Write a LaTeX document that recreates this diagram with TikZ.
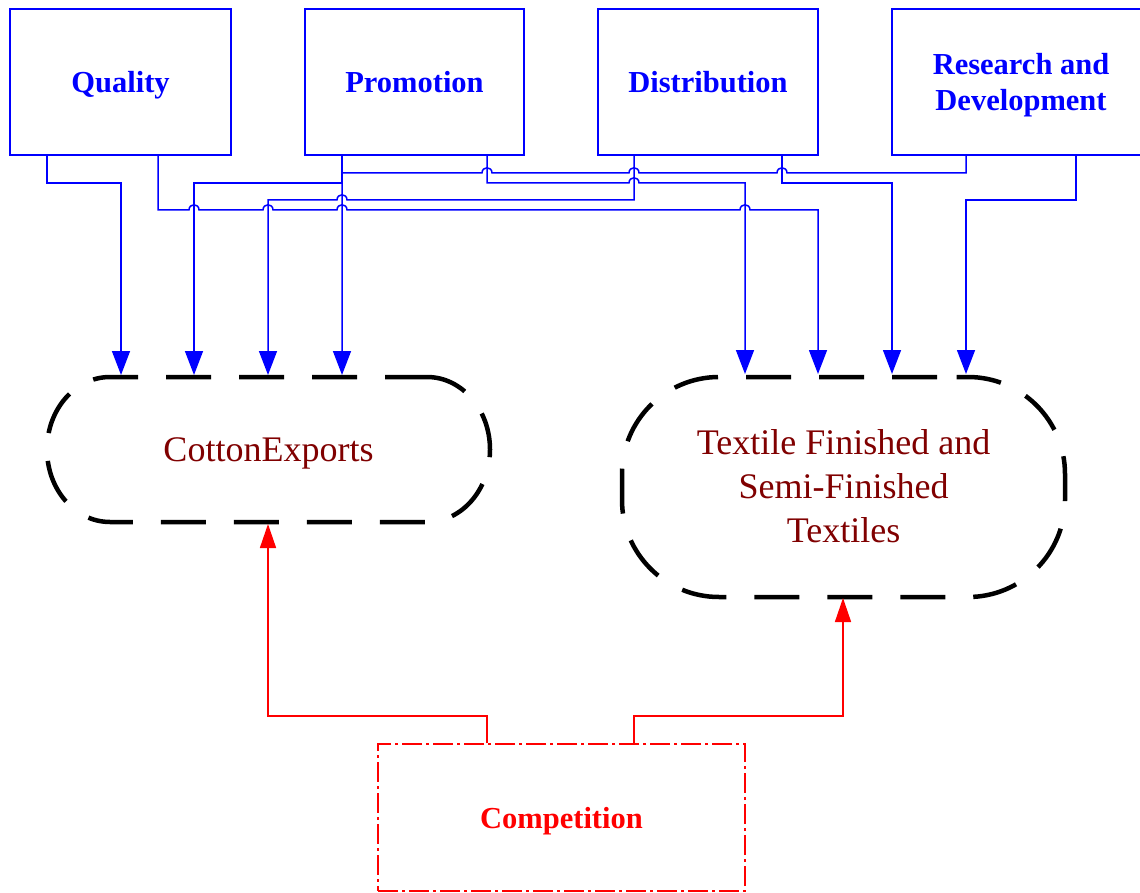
\documentclass[tikz,border=0pt]{standalone}
\usepackage{fontspec}
\setmainfont{Liberation Serif}
\usetikzlibrary{arrows.meta}
\definecolor{darkred}{RGB}{128,0,0}

\begin{document}
\begin{tikzpicture}[x=1pt,y=-1pt,
  topbox/.style={draw=blue, line width=1.5pt, minimum width=#1, minimum height=146pt,
    inner sep=0pt, align=center, text=blue, text depth=0pt,
    font=\fontsize{30.5}{36}\selectfont\bfseries},
  target/.style={inner sep=0pt, outer sep=2pt, align=center, text=darkred,
    font=\fontsize{36}{44}\selectfont},
  ring/.style={draw=black, line width=4.5pt, dash pattern=on 45pt off 28pt},
  compbox/.style={draw=red, line width=1.5pt, dash pattern=on 20pt off 4pt on 3pt off 4pt,
    minimum width=367pt, minimum height=147pt, inner sep=0pt, text=red, text depth=0pt,
    font=\fontsize{30.5}{36}\selectfont\bfseries},
  conn/.style={draw=blue, line width=1.5pt, -{Triangle[length=24pt,width=18pt]}},
  redconn/.style={draw=red, line width=1.5pt, -{Triangle[length=24pt,width=16pt]}}
]
\fill[white] (0,0) rectangle (1140,893);
\useasboundingbox (0,0) rectangle (1140,893);

% source boxes
\node[topbox=221pt] (q) at (120.5,82) {Quality};
\node[topbox=219pt] (p) at (414.5,82) {Promotion};
\node[topbox=220pt] (d) at (708,82) {Distribution};
\node[topbox=258pt] (r) at (1021,82) {Research and\\Development};

% targets
\node[target, text depth=0pt, minimum width=443pt, minimum height=145pt] (ce) at (268.5,449.5) {CottonExports};
\node[target, minimum width=443pt, minimum height=220pt] (tf) at (843.5,486)
  {Textile Finished and\\Semi-Finished\\Textiles};

% dashed outlines of the targets
\draw[ring, dash phase=3pt] (427,377) -- (110,377)
  arc[start angle=90, end angle=270, x radius=63pt, y radius=72.5pt]
  -- (427,522)
  arc[start angle=-90, end angle=90, x radius=63pt, y radius=72.5pt] -- cycle;
\draw[ring] (937,377) -- (719,377)
  arc[start angle=90, end angle=180, radius=97pt] -- (622,500)
  arc[start angle=180, end angle=270, radius=97pt] -- (968,597)
  arc[start angle=270, end angle=360, radius=97pt] -- (1065,474)
  arc[start angle=0, end angle=90, radius=97pt] -- cycle;

% competition
\node[compbox] (c) at (561.5,817.5) {Competition};

% Quality
\draw[conn] (q.south -| 47,0) -- (47,183) -- (121,183) -- (121,0 |- ce.north);
\draw[conn] (q.south -| 158,0) -- (158,210)
  -- (189,210) .. controls (189,203) and (199,203) .. (199,210)
  -- (263,210) .. controls (263,203) and (273,203) .. (273,210)
  -- (337,210) .. controls (337,203) and (347,203) .. (347,210)
  -- (740,210) .. controls (740,203) and (750,203) .. (750,210)
  -- (818,210) -- (818,0 |- tf.north);

% Promotion
\draw[conn] (p.south -| 342,0) -- (342,183) -- (194,183) -- (194,0 |- ce.north);
\draw[conn] (p.south -| 487,0) -- (487,183)
  -- (629,183) .. controls (629,176) and (639,176) .. (639,183)
  -- (745,183) -- (745,0 |- tf.north);

% Distribution
\draw[conn] (d.south -| 634,0) -- (634,200)
  -- (347,200) .. controls (347,193) and (337,193) .. (337,200)
  -- (268,200) -- (268,0 |- ce.north);
\draw[conn] (d.south -| 782,0) -- (782,183) -- (892,183) -- (892,0 |- tf.north);

% Research and Development
\draw[conn] (r.south -| 966,0) -- (966,173)
  -- (787,173) .. controls (787,166) and (777,166) .. (777,173)
  -- (639,173) .. controls (639,166) and (629,166) .. (629,173)
  -- (492,173) .. controls (492,166) and (482,166) .. (482,173)
  -- (342,173) -- (342,0 |- ce.north);
\draw[conn] (r.south -| 1076,0) -- (1076,200) -- (966,200) -- (966,0 |- tf.north);

% Competition
\draw[redconn] (c.north -| 487,0) -- (487,716) -- (268,716) -- (268,0 |- ce.south);
\draw[redconn] (c.north -| 634,0) -- (634,716) -- (843,716) -- (843,0 |- tf.south);
\end{tikzpicture}
\end{document}
